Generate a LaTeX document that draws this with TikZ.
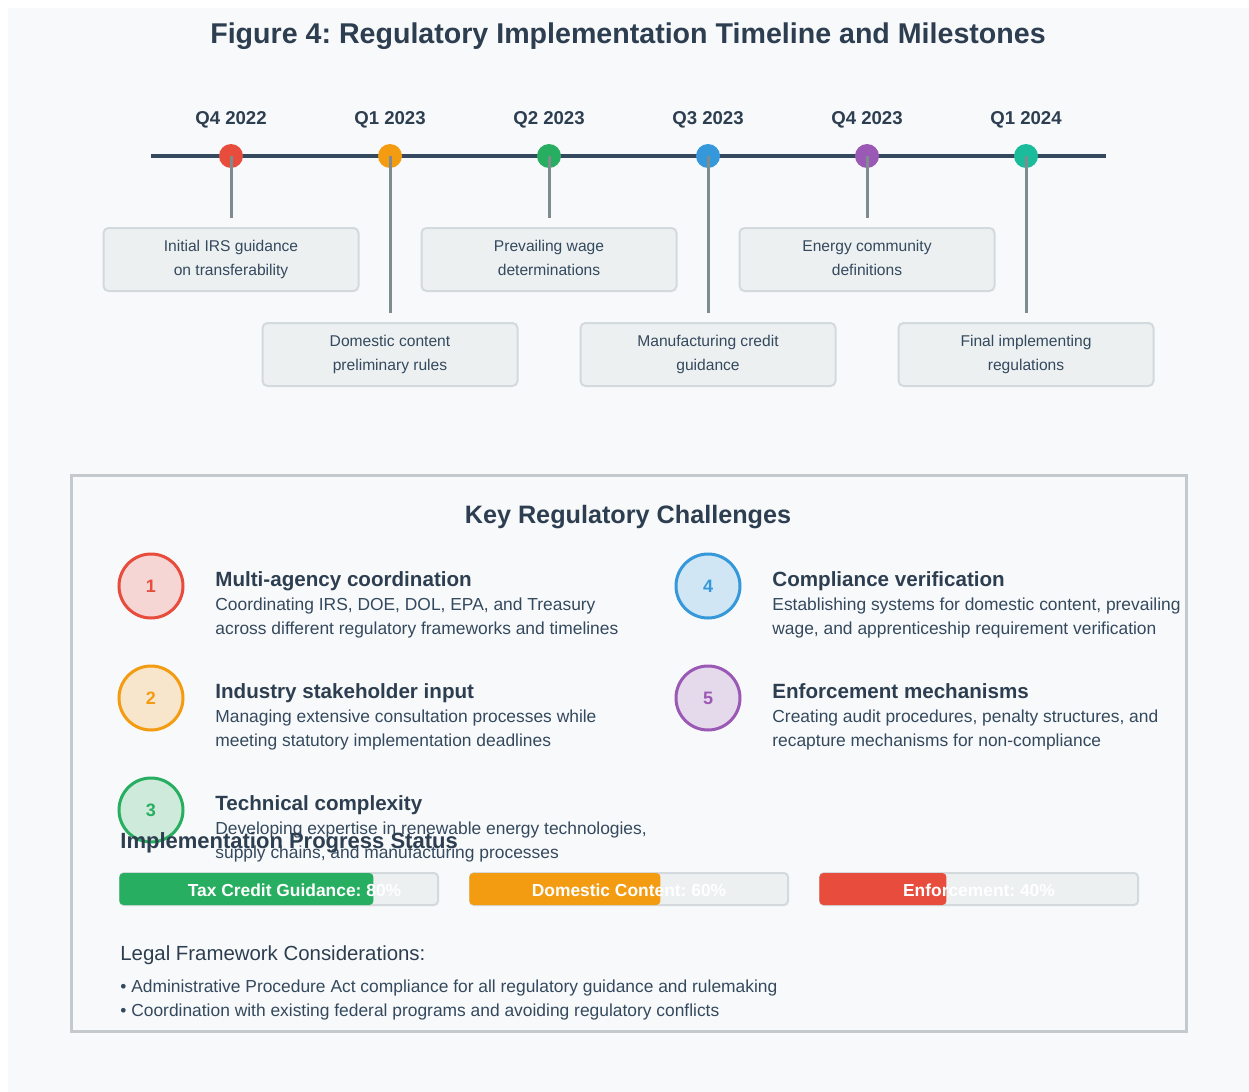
\documentclass[tikz,border=0pt]{standalone}
\usepackage{fontspec}
\setmainfont{Liberation Sans}
\frenchspacing
\definecolor{bgc}{HTML}{F8F9FA}
\definecolor{navy}{HTML}{34495E}
\definecolor{txtdark}{HTML}{2C3E50}
\definecolor{txtmid}{HTML}{34495E}
\definecolor{stemgrey}{HTML}{7F8C8D}
\definecolor{boxfill}{HTML}{ECF0F1}
\definecolor{boxline}{HTML}{D3D9DC}
\definecolor{framec}{HTML}{C3C9CD}
\definecolor{cred}{HTML}{E74C3C}
\definecolor{corange}{HTML}{F39C12}
\definecolor{cgreen}{HTML}{27AE60}
\definecolor{cblue}{HTML}{3498DB}
\definecolor{cpurple}{HTML}{9B59B6}
\definecolor{cteal}{HTML}{1ABC9C}
\tikzset{
  figtitle/.style={inner sep=0pt, anchor=base, text=txtdark, font=\bfseries\fontsize{14.3pt}{17pt}\selectfont},
  axis/.style={draw=navy, line width=2pt},
  qlabel/.style={inner sep=0pt, anchor=base, text=txtdark, font=\bfseries\fontsize{9.3pt}{11pt}\selectfont},
  dot/.style={circle, minimum size=12pt, inner sep=0pt},
  stem/.style={draw=stemgrey, line width=1.5pt, shorten >=4.5pt},
  evbox/.style={draw=boxline, fill=boxfill, line width=1pt, rounded corners=2.5pt,
    minimum width=127.5pt, minimum height=31.5pt, inner sep=0pt, align=center,
    text depth=1.6pt, text=txtmid, font=\fontsize{7.8pt}{12pt}\selectfont},
  frame/.style={draw=framec, line width=1.5pt},
  sectitle/.style={inner sep=0pt, anchor=base, text=txtdark, font=\bfseries\fontsize{12.6pt}{15pt}\selectfont},
  chal/.style={circle, minimum size=32pt, inner sep=0pt, line width=1.5pt,
    draw=#1, fill=#1!20!bgc, text=#1, font=\bfseries\fontsize{9pt}{11pt}\selectfont},
  chead/.style={inner sep=0pt, anchor=base west, text=txtdark, font=\bfseries\fontsize{10.3pt}{12pt}\selectfont},
  cdesc/.style={inner sep=0pt, anchor=base west, text=txtmid, font=\fontsize{8.7pt}{10pt}\selectfont},
  barbg/.style={draw=boxline, fill=boxfill, line width=1pt, rounded corners=2pt,
    minimum width=159pt, minimum height=16pt, inner sep=0pt},
  barfill/.style={fill=#1, rounded corners=2pt, minimum height=16pt, inner sep=0pt, anchor=west},
  barlabel/.style={inner sep=0pt, anchor=base, text=white, font=\bfseries\fontsize{8.7pt}{10pt}\selectfont},
  legalhead/.style={inner sep=0pt, anchor=base west, text=txtdark, font=\fontsize{10.2pt}{12pt}\selectfont},
  legalitem/.style={inner sep=0pt, anchor=base west, text=txtmid, font=\fontsize{8.7pt}{10pt}\selectfont}
}
\begin{document}
\begin{tikzpicture}[x=0.5pt, y=-0.5pt]
\useasboundingbox (0,0) rectangle (1249,1092);
\fill[white] (0,0) rectangle (1249,1092);
\fill[bgc] (8,8) rectangle (1249,1092);
\node[figtitle] (title) at (628,43) {Figure 4: Regulatory Implementation Timeline and Milestones};
% timeline
\coordinate (tl0) at (151,156);
\coordinate (tl1) at (1106,156);
\draw[axis] (tl0) -- (tl1);
\node[qlabel] (q0) at (231,124) {Q4 2022};
\node[qlabel] (q1) at (390,124) {Q1 2023};
\node[qlabel] (q2) at (549,124) {Q2 2023};
\node[qlabel] (q3) at (708,124) {Q3 2023};
\node[qlabel] (q4) at (867,124) {Q4 2023};
\node[qlabel] (q5) at (1026,124) {Q1 2024};
\node[dot, fill=cred] (d0) at (231,156) {};
\node[dot, fill=corange] (d1) at (390,156) {};
\node[dot, fill=cgreen] (d2) at (549,156) {};
\node[dot, fill=cblue] (d3) at (708,156) {};
\node[dot, fill=cpurple] (d4) at (867,156) {};
\node[dot, fill=cteal] (d5) at (1026,156) {};
\node[evbox] (m0) at (231,259.5) {Initial IRS guidance\\on transferability};
\node[evbox] (m1) at (390,354.5) {Domestic content\\preliminary rules};
\node[evbox] (m2) at (549,259.5) {Prevailing wage\\determinations};
\node[evbox] (m3) at (708,354.5) {Manufacturing credit\\guidance};
\node[evbox] (m4) at (867,259.5) {Energy community\\definitions};
\node[evbox] (m5) at (1026,354.5) {Final implementing\\regulations};
\draw[stem] (d0.center) -- (m0.north);
\draw[stem] (d1.center) -- (m1.north);
\draw[stem] (d2.center) -- (m2.north);
\draw[stem] (d3.center) -- (m3.north);
\draw[stem] (d4.center) -- (m4.north);
\draw[stem] (d5.center) -- (m5.north);
% challenges
\draw[frame] (71,475) rectangle (1186,1031);
\node[sectitle] (ktitle) at (628,523) {Key Regulatory Challenges};
\node[chal=cred] (c1) at (151,586) {1};
\node[chead] (h1) at (215,586) {Multi-agency coordination};
\node[cdesc] (t1a) at (215,610) {Coordinating IRS, DOE, DOL, EPA, and Treasury};
\node[cdesc] (t1b) at (215,634) {across different regulatory frameworks and timelines};
\node[chal=corange] (c2) at (151,698) {2};
\node[chead] (h2) at (215,698) {Industry stakeholder input};
\node[cdesc] (t2a) at (215,722) {Managing extensive consultation processes while};
\node[cdesc] (t2b) at (215,746) {meeting statutory implementation deadlines};
\node[chal=cgreen] (c3) at (151,810) {3};
\node[chead] (h3) at (215,810) {Technical complexity};
\node[cdesc] (t3a) at (215,834) {Developing expertise in renewable energy technologies,};
\node[cdesc] (t3b) at (215,858) {supply chains, and manufacturing processes};
\node[chal=cblue] (c4) at (708,586) {4};
\node[chead] (h4) at (772,586) {Compliance verification};
\node[cdesc] (t4a) at (772,610) {Establishing systems for domestic content, prevailing};
\node[cdesc] (t4b) at (772,634) {wage, and apprenticeship requirement verification};
\node[chal=cpurple] (c5) at (708,698) {5};
\node[chead] (h5) at (772,698) {Enforcement mechanisms};
\node[cdesc] (t5a) at (772,722) {Creating audit procedures, penalty structures, and};
\node[cdesc] (t5b) at (772,746) {recapture mechanisms for non-compliance};
% progress
\node[chead, font=\bfseries\fontsize{11pt}{13pt}\selectfont] (ptitle) at (120,848) {Implementation Progress Status};
\node[barbg] (p0) at (279,889) {};
\node[barfill=cgreen, minimum width=127pt] (f0) at (p0.west) {};
\node[barlabel] (l0) at (294.5,896) {Tax Credit Guidance: 80\%};
\node[barbg] (p1) at (629,889) {};
\node[barfill=corange, minimum width=95.5pt] (f1) at (p1.west) {};
\node[barlabel] (l1) at (629,896) {Domestic Content: 60\%};
\node[barbg] (p2) at (979,889) {};
\node[barfill=cred, minimum width=63.5pt] (f2) at (p2.west) {};
\node[barlabel] (l2) at (979,896) {Enforcement: 40\%};
\node[legalhead] (lg) at (120,960) {Legal Framework Considerations:};
\node[legalitem] (g1) at (120,992) {• Administrative Procedure Act compliance for all regulatory guidance and rulemaking};
\node[legalitem] (g2) at (120,1016) {• Coordination with existing federal programs and avoiding regulatory conflicts};
\end{tikzpicture}
\end{document}
